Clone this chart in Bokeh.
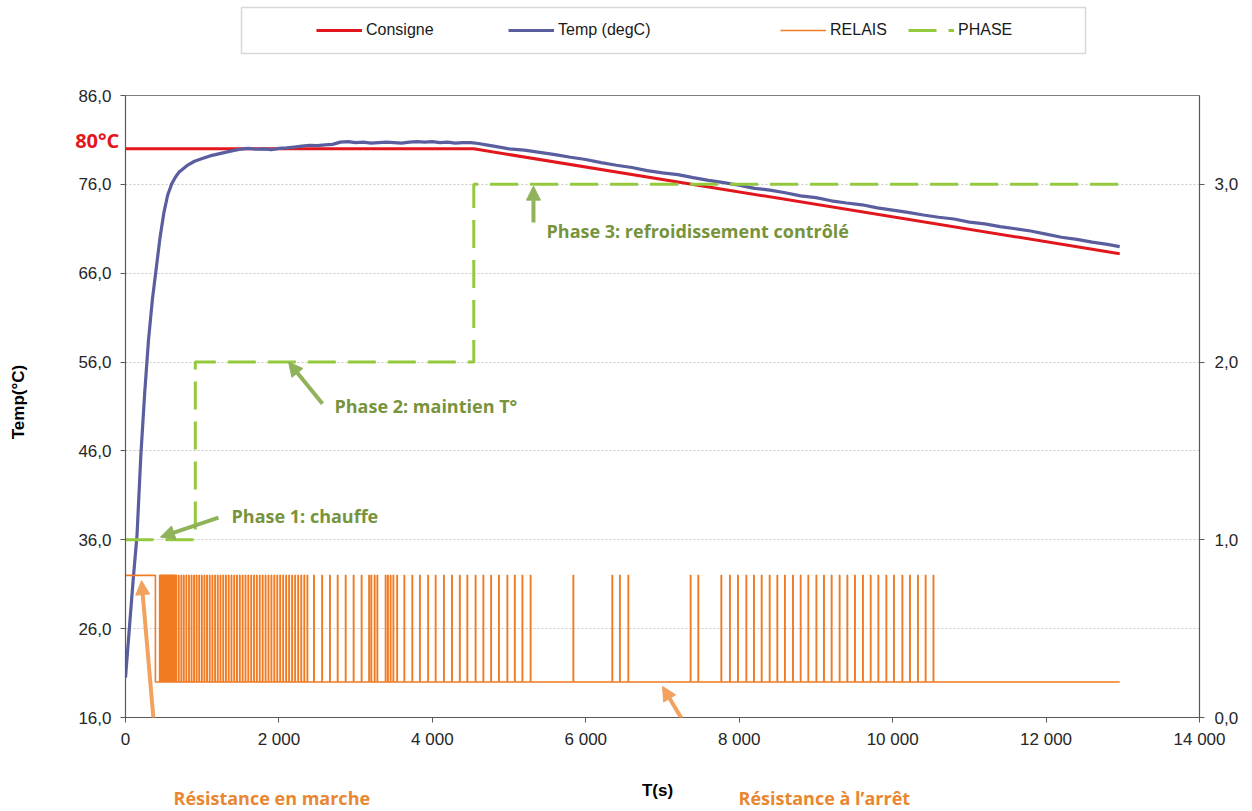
from bokeh.plotting import figure
from bokeh.layouts import column
from bokeh.models import (Range1d, LinearAxis, FixedTicker, Legend, LegendItem,
                          Label, Arrow, NormalHead, BoxAnnotation)
from bokeh.embed import file_html
from bokeh.resources import INLINE
import math

# ---------------- data ----------------
TEMP_T = [0, 50, 100, 150, 200, 250, 300, 350, 400, 450, 500, 550, 600, 650, 700,
          800, 900, 1000, 1100, 1200, 1300, 1400, 1500, 1600, 1700, 1800, 1900, 2000,
          2100, 2200, 2300, 2400, 2500, 2600, 2700, 2800, 2900, 3000, 3100, 3200, 3300,
          3400, 3500, 3600, 3700, 3800, 3900, 4000, 4100, 4200, 4300, 4400, 4500, 4600,
          4700, 4800, 5000, 5200, 5400, 5600, 5800, 6000, 6200, 6400, 6600, 6800, 7000,
          7200, 7400, 7600, 7800, 8000, 8200, 8400, 8600, 8800, 9000, 9200, 9400, 9600,
          9800, 10000, 10200, 10400, 10600, 10800, 11000, 11200, 11400, 11600, 11800,
          12000, 12200, 12400, 12600, 12800, 12960]
TEMP_V = [20.5, 26.0, 31.5, 36.5, 45.5, 52.5, 58.5, 63.0, 66.5, 70.0, 72.8, 74.8, 76.0, 76.8, 77.4,
          78.1, 78.6, 78.9, 79.2, 79.4, 79.6, 79.8, 79.95, 80.05, 79.95, 80.0, 79.9, 80.05,
          80.1, 80.2, 80.3, 80.4, 80.35, 80.45, 80.5, 80.75, 80.8, 80.7, 80.75, 80.65, 80.7,
          80.75, 80.7, 80.65, 80.75, 80.8, 80.75, 80.8, 80.7, 80.75, 80.65, 80.7, 80.7, 80.6,
          80.45, 80.3, 80.0, 79.85, 79.6, 79.35, 79.05, 78.8, 78.45, 78.15, 77.9, 77.55, 77.3,
          77.1, 76.75, 76.45, 76.2, 75.9, 75.55, 75.35, 75.05, 74.7, 74.5, 74.15, 73.9, 73.7,
          73.35, 73.1, 72.85, 72.55, 72.3, 72.1, 71.75, 71.55, 71.25, 71.0, 70.75,
          70.4, 70.05, 69.8, 69.5, 69.25, 69.0]

CONSIGNE_T = [0, 4540, 12960]
CONSIGNE_V = [80.0, 80.0, 68.2]

PHASE_T = [0, 910, 4540, 12960]
PHASE_V = [1, 2, 3, 3]

RELAY_HIGH = 0.8
RELAY_LOW = 0.2
RELAY_INITIAL_ON_END = 390
RELAY_END = 12960
RELAY_PULSES = [
    445, 455, 465, 475, 485, 495, 505, 515, 525, 535, 545, 555, 565, 575, 585, 595,
    605, 615, 625, 635, 645,
    660, 693, 726, 758, 791, 825, 859, 892, 925, 958, 993, 1027, 1061, 1096, 1131,
    1166, 1201, 1236, 1272, 1307, 1343, 1379, 1415, 1451, 1488, 1525, 1562, 1599,
    1636, 1673, 1710, 1748, 1786, 1824, 1862, 1900, 1938, 1976, 2014, 2053, 2092,
    2131, 2170, 2209, 2249, 2289, 2329, 2369,
    2455, 2561, 2663, 2764, 2868, 2972, 3076, 3174, 3203, 3246, 3281, 3389, 3419,
    3454, 3490, 3539, 3633, 3737, 3836, 3943, 4041, 4149, 4254, 4356, 4454, 4562,
    4663, 4764, 4866, 4976, 5073, 5172, 5279,
    5836, 6344, 6443, 6553, 7365, 7465,
    7765, 7877, 7982, 8091, 8190, 8291, 8395, 8495, 8594, 8699, 8799, 8899, 9004,
    9103, 9203, 9307, 9408, 9507, 9611, 9712, 9812, 9916, 10015, 10125, 10224,
    10328, 10428, 10530]

LEFT_TICKS = [16, 26, 36, 46, 56, 66, 76, 86]
LEFT_LABELS = ["16,0", "26,0", "36,0", "46,0", "56,0", "66,0", "76,0", "86,0"]
RIGHT_TICKS = [0, 1, 2, 3]
RIGHT_LABELS = ["0,0", "1,0", "2,0", "3,0"]
X_TICKS = [0, 2000, 4000, 6000, 8000, 10000, 12000, 14000]
X_LABELS = ["0", "2 000", "4 000", "6 000", "8 000", "10 000", "12 000", "14 000"]
SERIES_NAMES = ["Consigne", "Temp (degC)", "RELAIS", "PHASE"]

# ---------------- styles ----------------
C_RED = "#E2161D"
C_BLUE = "#5A5E9F"
C_ORANGE = "#F07B22"
C_GREEN = "#95C93D"
C_GTXT = "#77933C"
C_GARROW = "#8FB25A"
C_OTXT = "#E8872F"
C_OARROW = "#F2A25E"
AX_FONT = "Liberation Sans"
ANN_FONT = "Open Sans"
STYLES = [dict(line_color=C_RED, line_width=3),
          dict(line_color=C_BLUE, line_width=3.2),
          dict(line_color=C_ORANGE, line_width=1.6),
          dict(line_color=C_GREEN, line_width=3, line_dash="28 12")]

W = 1250
TOP_H = 75
FRAME_L, FRAME_R = 125, 1199   # frame edges (px) shared by both stacked figures

# relay step line built from pulse times
rx = [0, RELAY_INITIAL_ON_END, RELAY_INITIAL_ON_END]
ry = [RELAY_HIGH, RELAY_HIGH, RELAY_LOW]
PW = 4
for t in RELAY_PULSES:
    rx += [t, t, t + PW, t + PW]
    ry += [RELAY_LOW, RELAY_HIGH, RELAY_HIGH, RELAY_LOW]
rx.append(RELAY_END)
ry.append(RELAY_LOW)

# ---------------- legend strip (own small figure, above the chart) ----------------
pl = figure(width=W, height=TOP_H, x_range=Range1d(FRAME_L, FRAME_R),
            y_range=Range1d(TOP_H, 0), output_backend="svg", toolbar_location=None,
            min_border=0, x_axis_location=None, y_axis_location=None,
            outline_line_color=None)
pl.grid.visible = False
pl.background_fill_color = "white"
pl.border_fill_color = "white"
leg_r = [pl.line(CONSIGNE_T, CONSIGNE_V, visible=False, **STYLES[0]),
         pl.line(TEMP_T, TEMP_V, visible=False, **STYLES[1]),
         pl.line(rx, ry, visible=False, **STYLES[2]),
         pl.step(PHASE_T, PHASE_V, mode="after", visible=False, **STYLES[3])]
leg_x = [316, 508, 780, 908]
for name, r, lx in zip(SERIES_NAMES, leg_r, leg_x):
    pl.add_layout(Legend(items=[LegendItem(label=name, renderers=[r])],
                         location=(lx - FRAME_L, TOP_H - 40),
                         orientation="horizontal", border_line_color=None,
                         background_fill_alpha=0, padding=0, margin=0, glyph_width=46,
                         glyph_height=20, label_standoff=4, label_height=20,
                         label_text_font=AX_FONT, label_text_font_size="16px",
                         label_text_color="#1a1a1a"))
pl.add_layout(BoxAnnotation(left=241, right=1085, top=7, bottom=53, fill_alpha=0,
                            line_color="#7F7F7F", line_width=1.5))

# ---------------- main chart ----------------
p = figure(width=W, height=809 - TOP_H, x_range=Range1d(0, 14000), y_range=Range1d(16, 86),
           output_backend="svg", toolbar_location=None,
           min_border_left=FRAME_L, min_border_right=W - FRAME_R,
           min_border_top=95 - TOP_H, min_border_bottom=92)
p.extra_y_ranges = {"y2": Range1d(0, 3.5)}
p.background_fill_color = "white"
p.border_fill_color = "white"
p.outline_line_color = "#7F7F7F"
p.outline_line_width = 1

p.line(CONSIGNE_T, CONSIGNE_V, **STYLES[0])
p.line(TEMP_T, TEMP_V, **STYLES[1])
p.line(rx, ry, y_range_name="y2", **STYLES[2])
p.step(PHASE_T, PHASE_V, mode="after", y_range_name="y2", **STYLES[3])

# axes
xax = p.xaxis[0]
xax.ticker = FixedTicker(ticks=X_TICKS)
xax.major_label_overrides = dict(zip(X_TICKS, X_LABELS))
yax = p.yaxis[0]
yax.ticker = FixedTicker(ticks=LEFT_TICKS)
yax.major_label_overrides = dict(zip(LEFT_TICKS, LEFT_LABELS))
ax2 = LinearAxis(y_range_name="y2", ticker=FixedTicker(ticks=RIGHT_TICKS),
                 major_label_overrides=dict(zip(RIGHT_TICKS, RIGHT_LABELS)))
p.add_layout(ax2, "right")

for ax in [xax, yax, ax2]:
    ax.axis_line_color = "#595959"
    ax.axis_line_width = 1.2
    ax.major_tick_line_color = "#595959"
    ax.major_tick_in = 0
    ax.major_tick_out = 5
    ax.minor_tick_in = 0
    ax.minor_tick_out = 0
    ax.major_label_text_font = AX_FONT
    ax.major_label_text_font_size = "17px"
    ax.major_label_text_color = "#262626"

xax.major_label_standoff = 7
yax.major_label_standoff = 9
ax2.major_label_standoff = 10

p.xgrid.visible = False
p.ygrid.ticker = FixedTicker(ticks=LEFT_TICKS[1:-1])
p.ygrid.grid_line_color = "#C8C8C8"
p.ygrid.grid_line_dash = "2 2"
p.ygrid.grid_line_width = 1

# axis titles as labels placed in the side panels (positioned in data units)
lab_ts = Label(x=6935, y=7.8, text="T(s)", text_align="center", text_baseline="middle",
               text_font=AX_FONT, text_font_size="17px", text_font_style="bold",
               text_color="#000000")
lab_temp = Label(x=-1395, y=51.5, text="Temp(°C)", text_align="center",
                 text_baseline="middle", angle=math.pi / 2,
                 text_font=AX_FONT, text_font_size="17px", text_font_style="bold",
                 text_color="#000000")

lab_80 = Label(x=-80, y=80.9, text="80°C", text_align="right", text_baseline="middle",
               text_font=ANN_FONT, text_font_size="20px", text_font_style="bold",
               text_color=C_RED)

def ann(x, y, t, c):
    return Label(x=x, y=y, text=t, text_align="left", text_baseline="middle",
                 text_font=ANN_FONT, text_font_size="18px", text_font_style="bold",
                 text_color=c)

lab_p1 = ann(1382, 38.7, "Phase 1: chauffe", C_GTXT)
lab_p2 = ann(2724, 51.1, "Phase 2: maintien T°", C_GTXT)
lab_p3 = ann(5488, 70.8, "Phase 3: refroidissement contrôlé", C_GTXT)
lab_r1 = ann(626, 6.9, "Résistance en marche", C_OTXT)
lab_r2 = ann(7991, 6.9, "Résistance à l’arrêt", C_OTXT)

def arrow(xs, ys, xe, ye, c):
    return Arrow(x_start=xs, y_start=ys, x_end=xe, y_end=ye, line_color=c, line_width=4,
                 end=NormalHead(size=14, fill_color=c, line_color=c))

for a in [arrow(1212, 38.5, 456, 36.3, C_GARROW),
          arrow(2568, 51.3, 2125, 56.0, C_GARROW),
          arrow(5318, 71.7, 5318, 75.8, C_GARROW)]:
    p.add_layout(a)
for l in [lab_p1, lab_p2, lab_p3]:
    p.add_layout(l)

# out-of-frame annotations go into the side panels (not clipped)
p.add_layout(lab_80, "left")
p.add_layout(lab_temp, "left")
p.add_layout(lab_ts, "above")
p.add_layout(lab_r1, "below")
p.add_layout(lab_r2, "below")
p.add_layout(arrow(456, 6.7, 209, 31.4, C_OARROW), "below")
p.add_layout(arrow(7847, 7.2, 7000, 19.5, C_OARROW), "below")

open("out.html", "w").write(file_html(column(pl, p, spacing=0), INLINE))
